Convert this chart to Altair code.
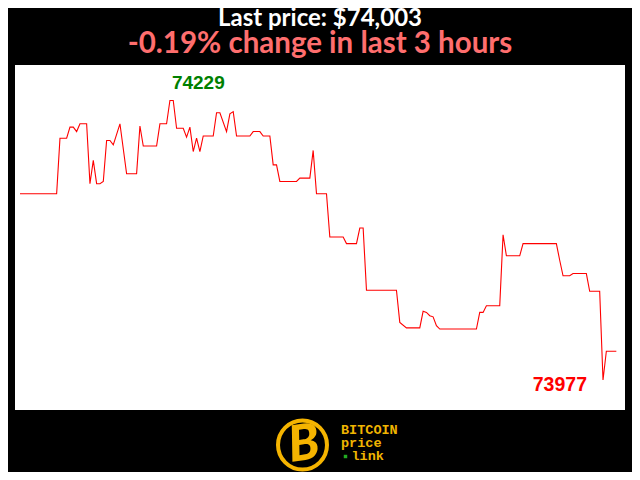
import altair as alt
import pandas as pd

# minute index (vertices of the 3-hour price trace) and price in USD
minutes = [0, 11, 12, 14, 15, 16, 17, 18, 20, 21, 22, 23, 24, 25, 26, 27, 28, 30,
           32, 35, 36, 37, 41, 42, 44, 45, 46, 47, 49, 50, 51, 52, 53, 54, 55, 58,
           59, 60, 62, 63, 64, 65, 69, 70, 72, 73, 75, 76, 77, 78, 83, 84, 87, 88,
           89, 92, 93, 97, 98, 101, 102, 103, 104, 113, 114, 116, 120, 121, 122,
           123, 124, 125, 126, 137, 138, 139, 140, 144, 145, 146, 150, 151, 161,
           162, 163, 165, 166, 170, 171, 174, 175, 176, 179]
prices = [74145, 74145, 74195, 74195, 74205, 74205, 74201, 74208, 74208, 74154,
          74175, 74154, 74154, 74156, 74193, 74193, 74189, 74208, 74163, 74163,
          74206, 74188, 74188, 74208, 74208, 74229, 74229, 74204, 74204, 74196,
          74205, 74183, 74195, 74183, 74197, 74197, 74218, 74218, 74201, 74217,
          74219, 74197, 74197, 74201, 74201, 74197, 74197, 74171, 74171, 74156,
          74156, 74159, 74159, 74184, 74145, 74145, 74106, 74106, 74100, 74100,
          74114, 74114, 74058, 74058, 74029, 74024, 74024, 74039, 74038, 74035,
          74034, 74026, 74023, 74023, 74038, 74038, 74044, 74044, 74108, 74089,
          74089, 74100, 74100, 74085, 74071, 74071, 74073, 74073, 74057, 74057,
          73977, 74003, 74003]

title_text = "Last price: $74,003"
subtitle_text = "-0.19% change in last 3 hours"
logo_lines = ["BITCOIN", "price", "link"]

df = pd.DataFrame({"minute": minutes, "price": prices})
imax = prices.index(max(prices))
imin = prices.index(min(prices))
df_max = pd.DataFrame({"minute": [minutes[imax]], "price": [prices[imax]],
                       "label": [str(prices[imax])]})
df_min = pd.DataFrame({"minute": [minutes[imin]], "price": [prices[imin]],
                       "label": [str(prices[imin])]})

xs = alt.X("minute:Q", scale=alt.Scale(domain=[-1.5, 181.6], nice=False, zero=False), axis=None)
ys = alt.Y("price:Q", scale=alt.Scale(domain=[73950, 74261], nice=False, zero=False), axis=None)

line = alt.Chart(df).mark_line(color="#ff0000", strokeWidth=1.1).encode(x=xs, y=ys)

max_lbl = alt.Chart(df_max).mark_text(
    color="#008000", font="Liberation Sans", fontWeight="bold", fontSize=19,
    align="left", baseline="alphabetic", dx=2, dy=-11
).encode(x=xs, y=ys, text="label:N")

min_lbl = alt.Chart(df_min).mark_text(
    color="#ff0000", font="Liberation Sans", fontWeight="bold", fontSize=19.5,
    align="right", baseline="alphabetic", dx=-16, dy=11
).encode(x=xs, y=ys, text="label:N")

base_txt = pd.DataFrame({"t": [0]})

title = alt.Chart(base_txt).mark_text(
    text=title_text, color="white", font="Lato", fontWeight="bold", fontSize=24,
    align="center", baseline="alphabetic"
).encode(x=alt.value(305), y=alt.value(-39))

subtitle = alt.Chart(base_txt).mark_text(
    text=subtitle_text, color="#ff6e6e", font="Lato", fontWeight="bold", fontSize=29.5,
    align="center", baseline="alphabetic"
).encode(x=alt.value(305), y=alt.value(-12))

logo_ring = alt.Chart(base_txt).mark_point(
    shape="circle", filled=False, color="#f5b400", strokeWidth=4, size=2400, opacity=1
).encode(x=alt.value(287.5), y=alt.value(380))

logo_b = alt.Chart(base_txt).mark_text(
    text="B", color="#f5b400", font="Lato", fontWeight=900, fontStyle="italic",
    fontSize=50, align="center", baseline="middle", angle=352
).encode(x=alt.value(289), y=alt.value(380))

logo_t1 = alt.Chart(base_txt).mark_text(
    text=logo_lines[0], color="#f0b400", font="Liberation Mono", fontWeight="bold",
    fontSize=13.5, align="left", baseline="alphabetic"
).encode(x=alt.value(326), y=alt.value(369))
logo_t2 = alt.Chart(base_txt).mark_text(
    text=logo_lines[1], color="#f0b400", font="Liberation Mono", fontWeight="bold",
    fontSize=13.5, align="left", baseline="alphabetic"
).encode(x=alt.value(326), y=alt.value(382))
logo_t3 = alt.Chart(base_txt).mark_text(
    text=logo_lines[2], color="#f0b400", font="Liberation Mono", fontWeight="bold",
    fontSize=13.5, align="left", baseline="alphabetic"
).encode(x=alt.value(336.5), y=alt.value(395))
logo_dot = alt.Chart(base_txt).mark_square(
    color="#22aa22", size=12, opacity=1
).encode(x=alt.value(330.5), y=alt.value(391.5))

chart = alt.layer(
    line, max_lbl, min_lbl, title, subtitle,
    logo_ring, logo_b, logo_t1, logo_t2, logo_t3, logo_dot
).properties(
    width=610, height=345,
    autosize=alt.AutoSizeParams(type="none"),
    padding={"left": 7, "top": 57, "right": 7, "bottom": 62},
    background="black"
).configure_view(fill="white", stroke=None)

chart.save("out.html", embed_options={"renderer": "svg", "actions": False})
